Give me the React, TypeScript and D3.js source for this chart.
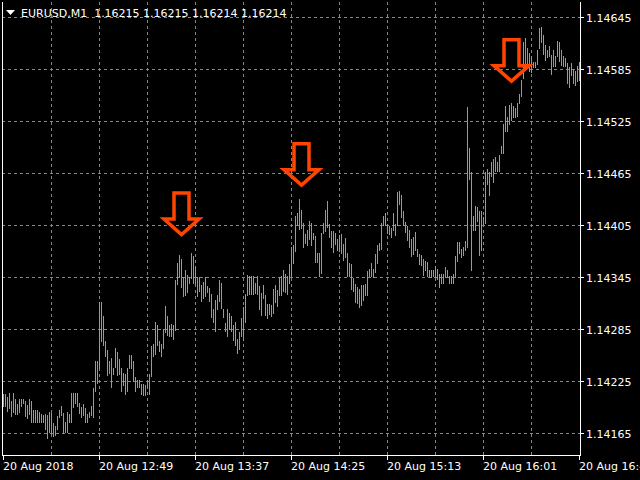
import React, { useEffect } from 'react';
import * as d3 from 'd3';

// EURUSD M1 bars, high / low per bar (bar 0 = 20 Aug 12:01)
const barHigh = [
  1.14210, 1.14210, 1.14207, 1.14211, 1.14202, 1.14212, 1.14205, 1.14199, 1.14205, 1.14205,
  1.14205, 1.14202, 1.14198, 1.14205, 1.14202, 1.14192, 1.14192, 1.14192, 1.14189, 1.14187,
  1.14186, 1.14187, 1.14186, 1.14190, 1.14188, 1.14177, 1.14174, 1.14185, 1.14192, 1.14197,
  1.14188, 1.14178, 1.14190, 1.14187, 1.14212, 1.14211, 1.14211, 1.14211, 1.14200, 1.14195,
  1.14199, 1.14194, 1.14187, 1.14190, 1.14197, 1.14217, 1.14248, 1.14248, 1.14316, 1.14316,
  1.14300, 1.14272, 1.14261, 1.14248, 1.14252, 1.14240, 1.14263, 1.14259, 1.14251, 1.14240,
  1.14235, 1.14233, 1.14240, 1.14255, 1.14255, 1.14248, 1.14230, 1.14227, 1.14226, 1.14222,
  1.14222, 1.14221, 1.14227, 1.14233, 1.14266, 1.14268, 1.14293, 1.14290, 1.14272, 1.14268,
  1.14285, 1.14312, 1.14300, 1.14290, 1.14291, 1.14290, 1.14342, 1.14361, 1.14371, 1.14366,
  1.14345, 1.14354, 1.14348, 1.14345, 1.14373, 1.14369, 1.14357, 1.14345, 1.14345, 1.14336,
  1.14340, 1.14345, 1.14335, 1.14333, 1.14326, 1.14309, 1.14319, 1.14324, 1.14342, 1.14338,
  1.14309, 1.14292, 1.14309, 1.14304, 1.14300, 1.14290, 1.14293, 1.14274, 1.14282, 1.14298,
  1.14311, 1.14326, 1.14348, 1.14346, 1.14346, 1.14346, 1.14338, 1.14346, 1.14335, 1.14327,
  1.14336, 1.14324, 1.14314, 1.14314, 1.14313, 1.14332, 1.14336, 1.14330, 1.14345, 1.14346,
  1.14354, 1.14349, 1.14347, 1.14360, 1.14380, 1.14382, 1.14416, 1.14419, 1.14435, 1.14423,
  1.14408, 1.14395, 1.14400, 1.14410, 1.14408, 1.14396, 1.14393, 1.14373, 1.14373, 1.14396,
  1.14408, 1.14423, 1.14433, 1.14407, 1.14398, 1.14398, 1.14396, 1.14389, 1.14394, 1.14395,
  1.14384, 1.14390, 1.14373, 1.14361, 1.14360, 1.14344, 1.14337, 1.14334, 1.14332, 1.14336,
  1.14336, 1.14337, 1.14352, 1.14355, 1.14361, 1.14355, 1.14372, 1.14382, 1.14385, 1.14408,
  1.14416, 1.14419, 1.14407, 1.14404, 1.14402, 1.14419, 1.14407, 1.14443, 1.14445, 1.14440,
  1.14422, 1.14409, 1.14404, 1.14399, 1.14389, 1.14392, 1.14397, 1.14378, 1.14372, 1.14371,
  1.14366, 1.14364, 1.14363, 1.14354, 1.14354, 1.14354, 1.14358, 1.14355, 1.14349, 1.14349,
  1.14349, 1.14357, 1.14353, 1.14346, 1.14346, 1.14349, 1.14370, 1.14386, 1.14386, 1.14378,
  1.14380, 1.14387, 1.14541, 1.14494, 1.14467, 1.14416, 1.14427, 1.14426, 1.14422, 1.14421,
  1.14415, 1.14467, 1.14470, 1.14467, 1.14478, 1.14481, 1.14484, 1.14478, 1.14486, 1.14496,
  1.14522, 1.14543, 1.14530, 1.14544, 1.14546, 1.14543, 1.14540, 1.14546, 1.14557, 1.14573,
  1.14617, 1.14621, 1.14609, 1.14604, 1.14600, 1.14593, 1.14593, 1.14607, 1.14633, 1.14634,
  1.14625, 1.14613, 1.14607, 1.14612, 1.14602, 1.14607, 1.14600, 1.14618, 1.14617, 1.14607,
  1.14600, 1.14598, 1.14592, 1.14588, 1.14592, 1.14585, 1.14583, 1.14589, 1.14593,
];

const barLow = [
  1.14197, 1.14197, 1.14191, 1.14194, 1.14185, 1.14190, 1.14187, 1.14187, 1.14190, 1.14197,
  1.14200, 1.14185, 1.14183, 1.14187, 1.14178, 1.14178, 1.14178, 1.14178, 1.14178, 1.14178,
  1.14178, 1.14170, 1.14160, 1.14166, 1.14165, 1.14162, 1.14163, 1.14170, 1.14184, 1.14186,
  1.14165, 1.14166, 1.14167, 1.14178, 1.14178, 1.14195, 1.14200, 1.14197, 1.14188, 1.14184,
  1.14186, 1.14178, 1.14178, 1.14184, 1.14186, 1.14184, 1.14214, 1.14223, 1.14240, 1.14271,
  1.14267, 1.14254, 1.14232, 1.14235, 1.14219, 1.14233, 1.14241, 1.14232, 1.14233, 1.14214,
  1.14221, 1.14210, 1.14214, 1.14240, 1.14240, 1.14225, 1.14214, 1.14219, 1.14219, 1.14210,
  1.14209, 1.14209, 1.14217, 1.14210, 1.14231, 1.14254, 1.14257, 1.14267, 1.14260, 1.14254,
  1.14263, 1.14282, 1.14279, 1.14277, 1.14277, 1.14274, 1.14284, 1.14337, 1.14345, 1.14334,
  1.14323, 1.14325, 1.14328, 1.14338, 1.14344, 1.14338, 1.14337, 1.14323, 1.14329, 1.14318,
  1.14321, 1.14323, 1.14328, 1.14318, 1.14299, 1.14293, 1.14283, 1.14309, 1.14318, 1.14310,
  1.14299, 1.14283, 1.14277, 1.14285, 1.14283, 1.14273, 1.14267, 1.14258, 1.14262, 1.14277,
  1.14273, 1.14293, 1.14324, 1.14326, 1.14326, 1.14326, 1.14327, 1.14326, 1.14309, 1.14301,
  1.14321, 1.14301, 1.14298, 1.14303, 1.14300, 1.14304, 1.14317, 1.14312, 1.14324, 1.14324,
  1.14329, 1.14328, 1.14326, 1.14338, 1.14346, 1.14362, 1.14375, 1.14405, 1.14401, 1.14402,
  1.14380, 1.14385, 1.14382, 1.14389, 1.14382, 1.14389, 1.14363, 1.14363, 1.14346, 1.14350,
  1.14396, 1.14398, 1.14403, 1.14392, 1.14380, 1.14374, 1.14383, 1.14377, 1.14375, 1.14373,
  1.14365, 1.14368, 1.14346, 1.14346, 1.14332, 1.14329, 1.14316, 1.14315, 1.14311, 1.14313,
  1.14319, 1.14325, 1.14325, 1.14346, 1.14346, 1.14345, 1.14351, 1.14361, 1.14377, 1.14378,
  1.14405, 1.14405, 1.14396, 1.14395, 1.14392, 1.14399, 1.14394, 1.14405, 1.14429, 1.14415,
  1.14405, 1.14397, 1.14388, 1.14380, 1.14370, 1.14372, 1.14376, 1.14370, 1.14360, 1.14359,
  1.14348, 1.14353, 1.14346, 1.14345, 1.14345, 1.14347, 1.14345, 1.14343, 1.14334, 1.14338,
  1.14338, 1.14345, 1.14345, 1.14338, 1.14338, 1.14338, 1.14345, 1.14364, 1.14373, 1.14368,
  1.14371, 1.14377, 1.14380, 1.14459, 1.14353, 1.14399, 1.14399, 1.14410, 1.14371, 1.14377,
  1.14407, 1.14408, 1.14453, 1.14440, 1.14462, 1.14455, 1.14468, 1.14468, 1.14468, 1.14488,
  1.14488, 1.14514, 1.14514, 1.14522, 1.14527, 1.14530, 1.14530, 1.14531, 1.14546, 1.14554,
  1.14575, 1.14584, 1.14589, 1.14583, 1.14582, 1.14588, 1.14588, 1.14591, 1.14610, 1.14617,
  1.14603, 1.14596, 1.14599, 1.14600, 1.14580, 1.14589, 1.14589, 1.14600, 1.14595, 1.14590,
  1.14589, 1.14589, 1.14569, 1.14565, 1.14578, 1.14569, 1.14567, 1.14571, 1.14573,
];

const priceTicks = [1.14165, 1.14225, 1.14285, 1.14345, 1.14405, 1.14465, 1.14525, 1.14585, 1.14645];
const timeLabels = ['20 Aug 2018', '20 Aug 12:49', '20 Aug 13:37', '20 Aug 14:25', '20 Aug 15:13', '20 Aug 16:01', '20 Aug 16:49'];
const timeLabelBars = [0, 48, 96, 144, 192, 240, 288];
const gridBars = [24, 48, 72, 96, 120, 144, 168, 192, 216, 240, 264];

// down arrows: bar index and price of the arrow tip
const arrowBars = [89, 149, 254];
const arrowPrices = [1.14392, 1.14449, 1.14569];

const symbolTitle = 'EURUSD,M1';
const titleQuotes = ['1.16215', '1.16215', '1.16214', '1.16214'];

const W = 640;
const H = 480;
const plot = { left: 2, right: 580, top: 2, bottom: 455 };
const FONT = '"DejaVu Sans", Verdana, sans-serif';
const BAR = '#22ee22';
const GRID = '#778899';
const ARROW = '#ff4500';

const App: React.FC = () => {
  useEffect(() => {
    document.body.style.margin = '0';
    document.body.style.background = '#000';
  }, []);

  const x = d3.scaleLinear().domain([0, 288]).range([3.5, 579.5]);
  const y = d3.scaleLinear().domain([1.14165, 1.14645]).range([433.3, 17.3]);
  const py = (v: number) => Math.round(y(v)) + 0.5;

  // hollow arrow outline, tip at (0,0)
  const arrowPath = 'M-7.5,-43.5 H7.5 V-17.5 H17.5 L0,-2 L-17.5,-17.5 H-7.5 Z';

  return (
    <svg width={W} height={H} style={{ display: 'block', position: 'absolute', left: 0, top: 0, background: '#000' }}>
      <rect x={0} y={0} width={W} height={H} fill="#000" />

      {/* grid */}
      <g stroke={GRID} strokeWidth={1} strokeDasharray="3,3" shapeRendering="crispEdges">
        {priceTicks.map((t) => (
          <line key={'h' + t} x1={plot.left} x2={plot.right} y1={py(t)} y2={py(t)} />
        ))}
        {gridBars.map((b) => (
          <line key={'v' + b} x1={x(b)} x2={x(b)} y1={plot.top} y2={plot.bottom} />
        ))}
      </g>

      {/* bars */}
      <g stroke={BAR} strokeWidth={1} shapeRendering="crispEdges">
        {barHigh.map((h, i) => (
          <line key={i} x1={x(i)} x2={x(i)} y1={Math.round(y(h))} y2={Math.round(y(barLow[i])) + 1} />
        ))}
      </g>

      {/* arrows */}
      {arrowBars.map((b, i) => (
        <path
          key={'a' + i}
          d={arrowPath}
          transform={`translate(${x(b)},${y(arrowPrices[i])})`}
          fill="none"
          stroke={ARROW}
          strokeWidth={3.5}
          strokeLinejoin="miter"
        />
      ))}

      {/* frame */}
      <g stroke="#fff" strokeWidth={1} shapeRendering="crispEdges">
        <line x1={plot.left + 0.5} x2={plot.left + 0.5} y1={plot.top} y2={plot.bottom + 0.5} />
        <line x1={plot.right + 0.5} x2={plot.right + 0.5} y1={plot.top} y2={plot.bottom + 0.5} />
        <line x1={plot.left} x2={plot.right + 1} y1={plot.bottom + 0.5} y2={plot.bottom + 0.5} />
        {priceTicks.map((t) => (
          <line key={'rt' + t} x1={plot.right} x2={plot.right + 4} y1={py(t)} y2={py(t)} />
        ))}
        {timeLabelBars.map((b) => (
          <line key={'bt' + b} x1={x(b)} x2={x(b)} y1={plot.bottom} y2={plot.bottom + 5} />
        ))}
      </g>

      {/* price axis labels */}
      <g fill="#fff" fontFamily={FONT} fontSize={11}>
        {priceTicks.map((t) => (
          <text key={'pl' + t} x={plot.right + 6} y={py(t) + 4}>
            {t.toFixed(5)}
          </text>
        ))}
        {timeLabelBars.map((b, i) => (
          <text key={'tl' + b} x={x(b) - 0.5} y={470}>
            {timeLabels[i]}
          </text>
        ))}
      </g>

      {/* title */}
      <path d="M6,10 L15,10 L10.5,15 Z" fill="#fff" />
      <text x={21} y={17} fill="#fff" fontFamily={FONT} fontSize={11} style={{ whiteSpace: 'pre' }}>
        {symbolTitle + '  ' + titleQuotes.join(' ')}
      </text>
    </svg>
  );
};

export default App;
